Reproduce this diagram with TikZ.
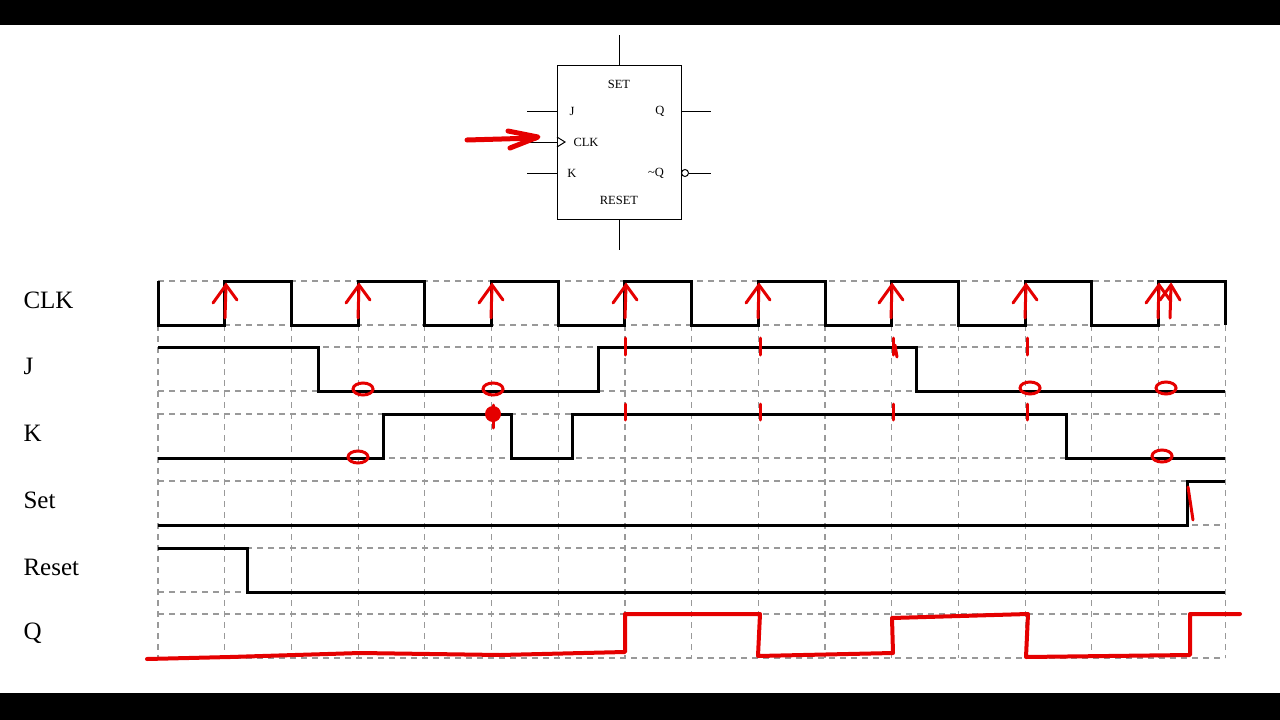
\documentclass[tikz,border=0pt]{standalone}
\usepackage{fontspec}
\setmainfont{Liberation Serif}
\begin{document}
\begin{tikzpicture}[x=1pt,y=-1pt,
  wave/.style={line width=3pt,line join=miter},
  redw/.style={red!90!black,line width=4pt,line cap=round,line join=round},
  redm/.style={red!90!black,line width=3pt,line cap=round},
  gridl/.style={gray!80,dash pattern=on 6pt off 5pt,line width=1.2pt},
  lab/.style={font=\fontsize{25}{25}\selectfont,anchor=west},
  pin/.style={font=\fontsize{12.5}{12.5}\selectfont},
  thin/.style={line width=1pt}]
\useasboundingbox (0,0) rectangle (1280,720);
\fill[black] (0,0) rectangle (1280,25);
\fill[black] (0,693) rectangle (1280,720);
% flip-flop
\node[draw,thin,minimum width=124pt,minimum height=154pt,inner sep=0] (ff) at (619,142) {};
\draw[thin] (ff.north) -- ++(0,-30);
\draw[thin] (ff.south) -- ++(0,30);
\coordinate (jin) at (557,111); \coordinate (kin) at (557,173); \coordinate (cin) at (557,142);
\coordinate (qo) at (681,111); \coordinate (nqo) at (681,173);
\draw[thin] (jin) -- ++(-30,0);
\draw[thin] (kin) -- ++(-30,0);
\draw[thin] (cin) -- ++(-30,0);
\draw[thin] (557,137) -- (565,142) -- (557,147);
\draw[thin] (qo) -- ++(30,0);
\draw[thin] (685,173) circle (3.5);
\draw[thin] (689,173) -- (711,173);
\node[pin] at (619,84) {SET};
\node[pin] at (572,111) {J};
\node[pin] at (660,111) {Q};
\node[pin] at (586,142) {CLK};
\node[pin] at (572,173) {K};
\node[pin] at (656,173) {\textasciitilde Q};
\node[pin] at (619,200) {RESET};
\draw[redw,line width=5pt] (467,140) -- (536,138);
\draw[redw,line width=5pt] (508,131) -- (538,137) -- (510,148);
% grid
\foreach \i in {0,...,16} \draw[gridl] ({158+66.7*\i},281) -- ({158+66.7*\i},658);
\foreach \y in {281,325,347,391,414,458,481,525,548,592,614,658} \draw[gridl] (158,\y) -- (1225,\y);
% labels
\node[lab] (lclk) at (20,300) {CLK};
\node[lab] (lj) at (20,366) {J};
\node[lab] (lk) at (20,433) {K};
\node[lab] (ls) at (20,500) {Set};
\node[lab] (lr) at (20,567) {Reset};
\node[lab] (lq) at (20,633) {Q};
% CLK
\draw[wave] (158,281) -- (158,325)
  \foreach \i in {0,...,7} { -- ({224.7+133.4*\i},325) -- ({224.7+133.4*\i},281) -- ({291.4+133.4*\i},281) -- ({291.4+133.4*\i},325) };
% J
\draw[wave] (158,347) -- (318,347) -- (318,391) -- (598,391) -- (598,347) -- (916,347) -- (916,391) -- (1225,391);
% K
\draw[wave] (158,458) -- (383,458) -- (383,414) -- (511,414) -- (511,458) -- (572,458) -- (572,414) -- (1066,414) -- (1066,458) -- (1225,458);
% Set
\draw[wave] (158,525) -- (1187,525) -- (1187,481) -- (1225,481);
% Reset
\draw[wave] (158,548) -- (247,548) -- (247,592) -- (1225,592);
% Q
\draw[redw] (147,659) -- (230,657) -- (360,653) -- (500,655) -- (625,652) -- (625,614) -- (760,614) -- (758,656) -- (893,653) -- (892,618) -- (1028,614) -- (1026,657) -- (1190,655) -- (1190,614) -- (1240,614);
% arrows on clk edges
\foreach \x in {225,358,491,625,758,891,1025,1158}{
  \draw[redm] (\x,318) -- (\x+1,285);
  \draw[redm] (\x-12,303) -- (\x+1,285) -- (\x+12,300);
}
\draw[redm] (1170,318) -- (1171,285);
\draw[redm] (1160,300) -- (1171,285) -- (1180,300);
% marks
\foreach \x in {625,760,893,1027}{ \draw[redm] (\x,338) -- (\x,355); \draw[redm] (\x,404) -- (\x,420);}
\draw[redm] (895,345) -- (897,357);
\foreach \p in {(363,389),(493,389),(1030,388),(1166,388),(358,457),(1162,456)} \draw[redm] \p ellipse (10 and 6);
\fill[red!90!black] (493,414) circle (8);
\draw[redm] (493,405) -- (493,428);
\draw[redm] (1188,487) -- (1193,520);
\end{tikzpicture}
\end{document}
